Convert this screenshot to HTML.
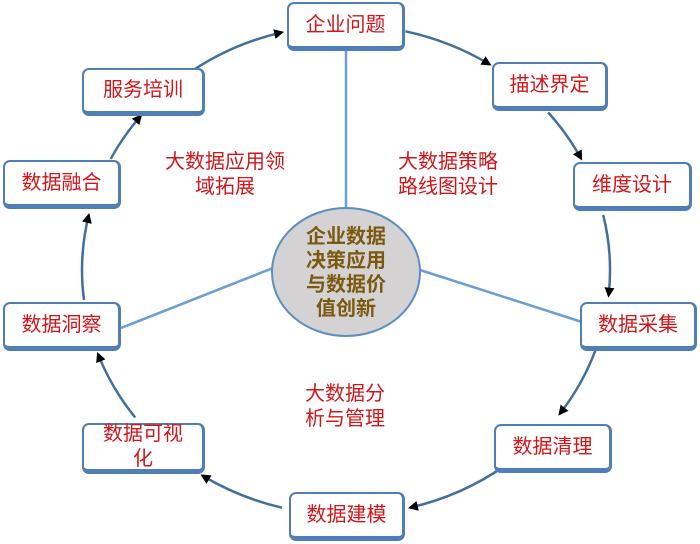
<!DOCTYPE html>
<html><head><meta charset="utf-8"><style>
html,body{margin:0;padding:0;background:#fff;}
body{width:700px;height:544px;position:relative;overflow:hidden;font-family:"Liberation Sans","Noto Sans CJK SC",sans-serif;}
.b{position:absolute;box-sizing:border-box;background:#fff;border:2px solid #4f7fb5;border-bottom-width:5px;border-right-width:3px;border-radius:7px;color:#d4161b;font-size:20px;display:flex;align-items:center;justify-content:center;text-align:center;line-height:25px;}
.t{position:absolute;color:#d4161b;font-size:20px;line-height:25px;text-align:center;}
svg{position:absolute;left:0;top:0;}
</style></head><body>
<svg width="700" height="544" id="s">
<defs><marker id="a" markerWidth="10" markerHeight="10" refX="8" refY="5" orient="auto" markerUnits="userSpaceOnUse"><path d="M0,0 L10,5 L0,10 z" fill="#000"/></marker></defs>
<line x1="346" y1="50" x2="346" y2="208" stroke="#6a9fd4" stroke-width="2.5"/>
<line x1="121" y1="328" x2="273" y2="268" stroke="#6a9fd4" stroke-width="2.5"/>
<line x1="420" y1="270" x2="582" y2="322" stroke="#6a9fd4" stroke-width="2.5"/>
<ellipse cx="346" cy="272" rx="74" ry="64" fill="#d4d2d3" stroke="#5b8fc4" stroke-width="2"/>
<g font-size="20" font-weight="bold" fill="#7b5a10" text-anchor="middle" font-family="Liberation Sans,Noto Sans CJK SC,sans-serif">
<text x="346" y="243">企业数据</text>
<text x="346" y="267">决策应用</text>
<text x="346" y="291">与数据价</text>
<text x="346" y="315">值创新</text>
</g>
<g id="g"></g>
</svg>
<script>
(function(){
var cx=346,cy=270,rx=264,ry=245;
function p(t){t=t*Math.PI/180;return [cx+rx*Math.sin(t),cy-ry*Math.cos(t)];}
var seg=[[13,33],[50,63],[77,96],[109,126],[143,166],[194,213],[233,250],[263,283],[297,309],[322,346]];
var g=document.getElementById('g'),h='';
seg.forEach(function(s){var a=p(s[0]),b=p(s[1]);
h+='<path d="M'+a[0].toFixed(1)+' '+a[1].toFixed(1)+' A'+rx+' '+ry+' 0 0 1 '+b[0].toFixed(1)+' '+b[1].toFixed(1)+'" fill="none" stroke="#41709f" stroke-width="2.5" marker-end="url(#a)"/>';});
g.innerHTML=h;
})();
</script>
<div class="b" style="left:287px;top:2px;width:118px;height:49px;">企业问题</div>
<div class="b" style="left:492px;top:62px;width:116px;height:49px;">描述界定</div>
<div class="b" style="left:573px;top:162px;width:119px;height:49px;">维度设计</div>
<div class="b" style="left:580px;top:302px;width:117px;height:49px;">数据采集</div>
<div class="b" style="left:494px;top:424px;width:118px;height:49px;">数据清理</div>
<div class="b" style="left:289px;top:492px;width:116px;height:49px;">数据建模</div>
<div class="b" style="left:82px;top:423px;width:123px;height:51px;">数据可视<br>化</div>
<div class="b" style="left:3px;top:302px;width:118px;height:49px;">数据洞察</div>
<div class="b" style="left:3px;top:160px;width:118px;height:49px;">数据融合</div>
<div class="b" style="left:82px;top:68px;width:123px;height:48px;">服务培训</div>
<div class="t" style="left:155px;top:150px;width:140px;">大数据应用领<br>域拓展</div>
<div class="t" style="left:383px;top:150px;width:130px;">大数据策略<br>路线图设计</div>
<div class="t" style="left:285px;top:382px;width:120px;">大数据分<br>析与管理</div>
</body></html>
